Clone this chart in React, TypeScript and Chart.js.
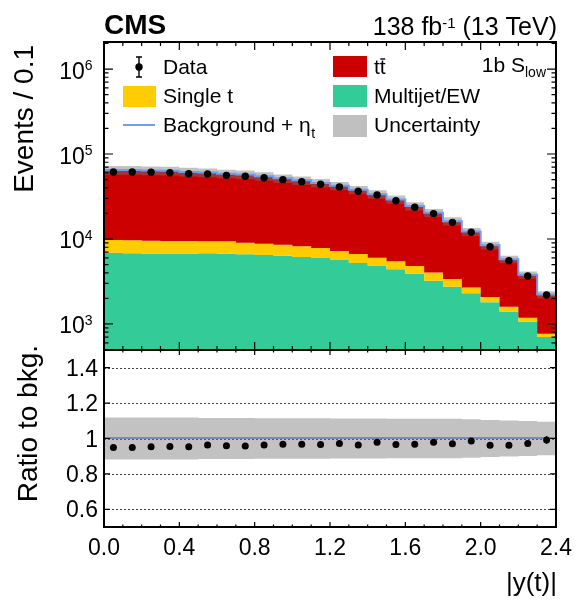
import React, { useEffect, useRef } from 'react';
import { Chart, registerables } from 'chart.js';

Chart.register(...registerables);

const FONT = '"Liberation Sans", Arial, Helvetica, sans-serif';

// ---- data ----
const binEdges = [0.0, 0.1, 0.2, 0.3, 0.4, 0.5, 0.6, 0.7, 0.8, 0.9, 1.0, 1.1, 1.2, 1.3, 1.4, 1.5, 1.6, 1.7, 1.8, 1.9, 2.0, 2.1, 2.2, 2.3, 2.4];
const multijetEW = [6900, 6790, 6720, 6720, 6720, 6790, 6720, 6610, 6490, 6370, 6140, 5970, 5660, 5220, 4860, 4400, 3910, 3230, 2750, 2300, 1800, 1400, 1060, 703];
const singleTop = [2830, 2860, 2830, 2750, 2750, 2600, 2670, 2430, 2320, 2200, 2060, 1870, 1560, 1450, 1170, 1070, 900, 790, 630, 380, 280, 190, 125, 66];
const ttbar = [55100, 54900, 54300, 53700, 52000, 51000, 49100, 48100, 45800, 43000, 40700, 37700, 35000, 31100, 27600, 23700, 19600, 16300, 12800, 9500, 6340, 4190, 2590, 1440];
const etaT = [160, 160, 158, 155, 150, 148, 144, 140, 134, 127, 120, 112, 103, 93, 83, 72, 61, 51, 40, 31, 22, 15, 10, 6];
const dataCounts = [61500, 61300, 60900, 60300, 58600, 58200, 56100, 54700, 52600, 49900, 47300, 44000, 41000, 36400, 32900, 28200, 23600, 19900, 15700, 12000, 8100, 5560, 3670, 2190];
const dataErr = [248, 248, 247, 246, 242, 241, 237, 234, 229, 223, 217, 210, 202, 191, 181, 168, 154, 141, 125, 110, 90, 75, 61, 47];
const bkgUncRel = [0.118, 0.118, 0.118, 0.118, 0.118, 0.116, 0.116, 0.116, 0.114, 0.114, 0.114, 0.114, 0.113, 0.113, 0.113, 0.111, 0.111, 0.111, 0.111, 0.109, 0.105, 0.102, 0.099, 0.095];

// ---- ticks / labels ----
const logDecades = [3, 4, 5, 6];
const logMinorMultipliers = [2, 3, 4, 5, 6, 7, 8, 9];
const xMajorTicks = [0.0, 0.4, 0.8, 1.2, 1.6, 2.0, 2.4];
const xTickLabels = ['0.0', '0.4', '0.8', '1.2', '1.6', '2.0', '2.4'];
const ratioTicks = [0.6, 0.8, 1.0, 1.2, 1.4];
const ratioTickLabels = ['0.6', '0.8', '1', '1.2', '1.4'];

// ---- colours ----
const GREEN = '#33cc99';
const YELLOW = '#ffcc00';
const RED = '#cc0000';
const BLUE = '#6e9ef4';
const UNC = 'rgba(120,120,120,0.45)';
const UNC_LEG = '#c0c0c0';

// ---- derived tables ----
const nBins = binEdges.length - 1;
const centers = binEdges.slice(0, nBins).map((e, i) => (e + binEdges[i + 1]) / 2);
const cumMJ = multijetEW.slice();
const cumST = cumMJ.map((v, i) => v + singleTop[i]);
const total = cumST.map((v, i) => v + ttbar[i]);
const withSig = total.map((v, i) => v + etaT[i]);
const totLow = total.map((v, i) => v * (1 - bkgUncRel[i]));
const totHigh = total.map((v, i) => v * (1 + bkgUncRel[i]));
const ratio = dataCounts.map((v, i) => v / total[i]);
const ratioErr = dataErr.map((v, i) => v / total[i]);
const ratioLow = bkgUncRel.map((u) => 1 - u);
const ratioHigh = bkgUncRel.map((u) => 1 + u);
const ratioSig = withSig.map((v, i) => v / total[i]);

const steps = (vals: number[]) => binEdges.map((x, i) => ({ x, y: vals[Math.min(i, vals.length - 1)] }));
const pts = (vals: number[]) => centers.map((x, i) => ({ x, y: vals[i] }));

const fillDs = (vals: number[], fill: any, color: string, order: number) => ({
  data: steps(vals),
  stepped: true,
  fill,
  backgroundColor: color,
  borderColor: 'transparent',
  borderWidth: 0,
  pointRadius: 0,
  order,
});

const isMajorX = (v: number) => xMajorTicks.some((m) => Math.abs(m - v) < 1e-6);

const topDecor = {
  id: 'topDecor',
  afterDatasetsDraw(chart: any) {
    const { ctx } = chart;
    const xs = chart.scales.x, ys = chart.scales.y;
    ctx.save();
    ctx.strokeStyle = '#000';
    ctx.lineWidth = 1.5;
    ctx.beginPath();
    centers.forEach((c, i) => {
      const x = xs.getPixelForValue(c);
      ctx.moveTo(x, ys.getPixelForValue(dataCounts[i] - dataErr[i]));
      ctx.lineTo(x, ys.getPixelForValue(dataCounts[i] + dataErr[i]));
    });
    ctx.stroke();
    ctx.restore();
  },
  afterDraw(chart: any) {
    const { ctx, chartArea: ca } = chart;
    const xs = chart.scales.x, ys = chart.scales.y;
    ctx.save();
    // frame
    ctx.strokeStyle = '#000';
    ctx.lineWidth = 2;
    ctx.strokeRect(ca.left, ca.top, ca.right - ca.left, ca.bottom - ca.top);
    // ticks
    ctx.lineWidth = 1.2;
    ctx.beginPath();
    const exps = [logDecades[0] - 1, ...logDecades];
    exps.forEach((e) => {
      [1, ...logMinorMultipliers].forEach((m) => {
        const v = m * Math.pow(10, e);
        if (v < ys.min || v > ys.max) return;
        const y = ys.getPixelForValue(v);
        const len = m === 1 ? 9 : 4.5;
        ctx.moveTo(ca.left, y); ctx.lineTo(ca.left + len, y);
        ctx.moveTo(ca.right, y); ctx.lineTo(ca.right - len, y);
      });
    });
    binEdges.forEach((v) => {
      const x = xs.getPixelForValue(v);
      const len = isMajorX(v) ? 8 : 4;
      ctx.moveTo(x, ca.bottom); ctx.lineTo(x, ca.bottom - len);
      ctx.moveTo(x, ca.top); ctx.lineTo(x, ca.top + len);
    });
    ctx.stroke();

    // y labels 10^n
    ctx.fillStyle = '#000';
    ctx.textBaseline = 'alphabetic';
    ctx.textAlign = 'left';
    logDecades.forEach((e) => {
      const y = ys.getPixelForValue(Math.pow(10, e));
      ctx.font = `14px ${FONT}`;
      const es = String(e);
      const we = ctx.measureText(es).width;
      ctx.font = `23px ${FONT}`;
      const w10 = ctx.measureText('10').width;
      const right = 92.5;
      ctx.fillText('10', right - we - w10, y + 9.5);
      ctx.font = `14px ${FONT}`;
      ctx.fillText(es, right - we, y + 1);
    });

    // y title
    ctx.save();
    ctx.translate(33, 45);
    ctx.rotate(-Math.PI / 2);
    ctx.textAlign = 'right';
    ctx.font = `28px ${FONT}`;
    ctx.fillText('Events / 0.1', 0, 0);
    ctx.restore();

    // header
    ctx.textAlign = 'left';
    ctx.font = `bold 28px ${FONT}`;
    ctx.fillText('CMS', 104, 34);
    ctx.font = `25px ${FONT}`;
    const p1 = '138 fb', p3 = ' (13 TeV)';
    const w1 = ctx.measureText(p1).width, w3 = ctx.measureText(p3).width;
    ctx.font = `15px ${FONT}`;
    const p2 = '-1';
    const w2 = ctx.measureText(p2).width;
    const hx = 557 - (w1 + w2 + w3);
    ctx.font = `25px ${FONT}`;
    ctx.fillText(p1, hx, 35);
    ctx.font = `15px ${FONT}`;
    ctx.fillText(p2, hx + w1, 28);
    ctx.font = `25px ${FONT}`;
    ctx.fillText(p3, hx + w1 + w2, 35);

    // category label
    ctx.font = `21px ${FONT}`;
    const c1 = '1b S';
    const wc1 = ctx.measureText(c1).width;
    ctx.font = `14px ${FONT}`;
    const wc2 = ctx.measureText('low').width;
    const cx = 546 - wc1 - wc2;
    ctx.font = `21px ${FONT}`;
    ctx.fillText(c1, cx, 72);
    ctx.font = `14px ${FONT}`;
    ctx.fillText('low', cx + wc1, 77);

    // legend
    ctx.font = `21px ${FONT}`;
    // Data
    ctx.beginPath();
    ctx.arc(139, 67, 3.7, 0, Math.PI * 2);
    ctx.fill();
    ctx.lineWidth = 1.4;
    ctx.beginPath();
    ctx.moveTo(139, 57); ctx.lineTo(139, 77);
    ctx.moveTo(136, 57); ctx.lineTo(142, 57);
    ctx.moveTo(136, 77); ctx.lineTo(142, 77);
    ctx.stroke();
    ctx.fillText('Data', 163, 74);
    // Single t
    ctx.fillStyle = YELLOW;
    ctx.fillRect(123, 86, 33, 21);
    ctx.fillStyle = '#000';
    ctx.fillText('Single t', 163, 103);
    // Background + eta_t
    ctx.strokeStyle = BLUE;
    ctx.lineWidth = 2;
    ctx.beginPath();
    ctx.moveTo(123, 125); ctx.lineTo(155, 125);
    ctx.stroke();
    const bt = 'Background + \u03b7';
    ctx.fillText(bt, 163, 132);
    const wbt = ctx.measureText(bt).width;
    ctx.font = `14px ${FONT}`;
    ctx.fillText('t', 163 + wbt + 0.5, 138);
    ctx.font = `21px ${FONT}`;
    // ttbar
    ctx.fillStyle = RED;
    ctx.fillRect(333, 56, 34, 21);
    ctx.fillStyle = '#000';
    ctx.fillText('tt', 374, 74);
    const wt = ctx.measureText('t').width;
    const wtt = ctx.measureText('tt').width;
    ctx.strokeStyle = '#000';
    ctx.lineWidth = 1.4;
    ctx.beginPath();
    ctx.moveTo(374 + wt + 0.5, 59); ctx.lineTo(374 + wtt - 0.5, 59);
    ctx.stroke();
    // Multijet/EW
    ctx.fillStyle = GREEN;
    ctx.fillRect(333, 85, 34, 22);
    ctx.fillStyle = '#000';
    ctx.fillText('Multijet/EW', 374, 103);
    // Uncertainty
    ctx.fillStyle = UNC_LEG;
    ctx.fillRect(333, 115, 34, 22);
    ctx.fillStyle = '#000';
    ctx.fillText('Uncertainty', 374, 132);

    ctx.restore();
  },
};

const ratioDecor = {
  id: 'ratioDecor',
  beforeDatasetsDraw(chart: any) {
    const { ctx, chartArea: ca } = chart;
    const ys = chart.scales.y;
    ctx.save();
    ctx.strokeStyle = '#444';
    ctx.lineWidth = 1;
    ctx.setLineDash([2, 2]);
    ctx.beginPath();
    ratioTicks.forEach((v) => {
      const y = Math.round(ys.getPixelForValue(v)) + 0.5;
      ctx.moveTo(ca.left, y); ctx.lineTo(ca.right, y);
    });
    ctx.stroke();
    ctx.restore();
  },
  afterDatasetsDraw(chart: any) {
    const { ctx } = chart;
    const xs = chart.scales.x, ys = chart.scales.y;
    ctx.save();
    ctx.strokeStyle = '#000';
    ctx.lineWidth = 1.5;
    ctx.beginPath();
    centers.forEach((c, i) => {
      const x = xs.getPixelForValue(c);
      ctx.moveTo(x, ys.getPixelForValue(ratio[i] - ratioErr[i]));
      ctx.lineTo(x, ys.getPixelForValue(ratio[i] + ratioErr[i]));
    });
    ctx.stroke();
    ctx.restore();
  },
  afterDraw(chart: any) {
    const { ctx, chartArea: ca } = chart;
    const xs = chart.scales.x, ys = chart.scales.y;
    ctx.save();
    ctx.strokeStyle = '#000';
    ctx.lineWidth = 2;
    ctx.strokeRect(ca.left, ca.top, ca.right - ca.left, ca.bottom - ca.top);
    ctx.lineWidth = 1.2;
    ctx.beginPath();
    binEdges.forEach((v) => {
      const x = xs.getPixelForValue(v);
      const len = isMajorX(v) ? 5 : 2.5;
      ctx.moveTo(x, ca.bottom); ctx.lineTo(x, ca.bottom - len);
      ctx.moveTo(x, ca.top); ctx.lineTo(x, ca.top + len);
    });
    ratioTicks.forEach((v) => {
      const y = ys.getPixelForValue(v);
      ctx.moveTo(ca.left, y); ctx.lineTo(ca.left + 6, y);
      ctx.moveTo(ca.right, y); ctx.lineTo(ca.right - 6, y);
    });
    ctx.stroke();

    ctx.fillStyle = '#000';
    ctx.textBaseline = 'alphabetic';
    ctx.font = `23px ${FONT}`;
    ctx.textAlign = 'right';
    ratioTicks.forEach((v, i) => {
      ctx.fillText(ratioTickLabels[i], 98, ys.getPixelForValue(v) + 8);
    });
    ctx.textAlign = 'center';
    xMajorTicks.forEach((v, i) => {
      ctx.fillText(xTickLabels[i], xs.getPixelForValue(v), 555);
    });

    ctx.font = `26px ${FONT}`;
    ctx.textAlign = 'right';
    ctx.fillText('|y(t)|', 557, 591);

    ctx.save();
    ctx.translate(37, 345);
    ctx.rotate(-Math.PI / 2);
    ctx.textAlign = 'right';
    ctx.font = `28px ${FONT}`;
    ctx.fillText('Ratio to bkg.', 0, 0);
    ctx.restore();

    ctx.restore();
  },
};

export default function App() {
  const topRef = useRef<HTMLCanvasElement | null>(null);
  const botRef = useRef<HTMLCanvasElement | null>(null);

  useEffect(() => {
    if (!topRef.current || !botRef.current) return;
    const common: any = {
      responsive: false,
      maintainAspectRatio: false,
      animation: false,
      events: [],
      plugins: { legend: { display: false }, tooltip: { enabled: false } },
    };

    const top = new Chart(topRef.current, {
      type: 'line',
      data: {
        datasets: [
          fillDs(cumMJ, 'start', GREEN, 6),
          fillDs(cumST, '-1', YELLOW, 5),
          fillDs(total, '-1', RED, 4),
          fillDs(totLow, false, 'transparent', 3),
          fillDs(totHigh, '-1', UNC, 3),
          {
            data: steps(withSig),
            stepped: true,
            fill: false,
            borderColor: BLUE,
            borderWidth: 2,
            pointRadius: 0,
            order: 1,
          },
          {
            data: pts(dataCounts),
            showLine: false,
            pointRadius: 3.7,
            pointBackgroundColor: '#000',
            pointBorderWidth: 0,
            borderColor: '#000',
            order: 0,
          },
        ] as any,
      },
      options: {
        ...common,
        layout: { padding: { left: 104, right: 24, top: 42, bottom: 254 } },
        scales: {
          x: { type: 'linear', min: 0, max: 2.4, display: false },
          y: { type: 'logarithmic', min: 494, max: 2.08e6, display: false },
        },
      },
      plugins: [topDecor],
    });

    const bot = new Chart(botRef.current, {
      type: 'line',
      data: {
        datasets: [
          fillDs(ratioLow, false, 'transparent', 1),
          fillDs(ratioHigh, '-1', UNC, 1),
          {
            data: steps(ratioSig),
            stepped: true,
            fill: false,
            borderColor: BLUE,
            borderWidth: 2,
            pointRadius: 0,
            order: 2,
          },
          {
            data: pts(ratio),
            showLine: false,
            pointRadius: 3.5,
            pointBackgroundColor: '#000',
            pointBorderWidth: 0,
            borderColor: '#000',
            order: 0,
          },
        ] as any,
      },
      options: {
        ...common,
        layout: { padding: { left: 104, right: 24, top: 350, bottom: 77 } },
        scales: {
          x: { type: 'linear', min: 0, max: 2.4, display: false },
          y: { type: 'linear', min: 0.5, max: 1.5, display: false },
        },
      },
      plugins: [ratioDecor],
    });

    return () => {
      top.destroy();
      bot.destroy();
    };
  }, []);

  const cs: React.CSSProperties = { position: 'absolute', left: 0, top: 0, width: 580, height: 604 };
  return (
    <div style={{ position: 'absolute', left: 0, top: 0, width: 580, height: 604, background: '#fff' }}>
      <canvas ref={topRef} width={580} height={604} style={cs} />
      <canvas ref={botRef} width={580} height={604} style={cs} />
    </div>
  );
}
